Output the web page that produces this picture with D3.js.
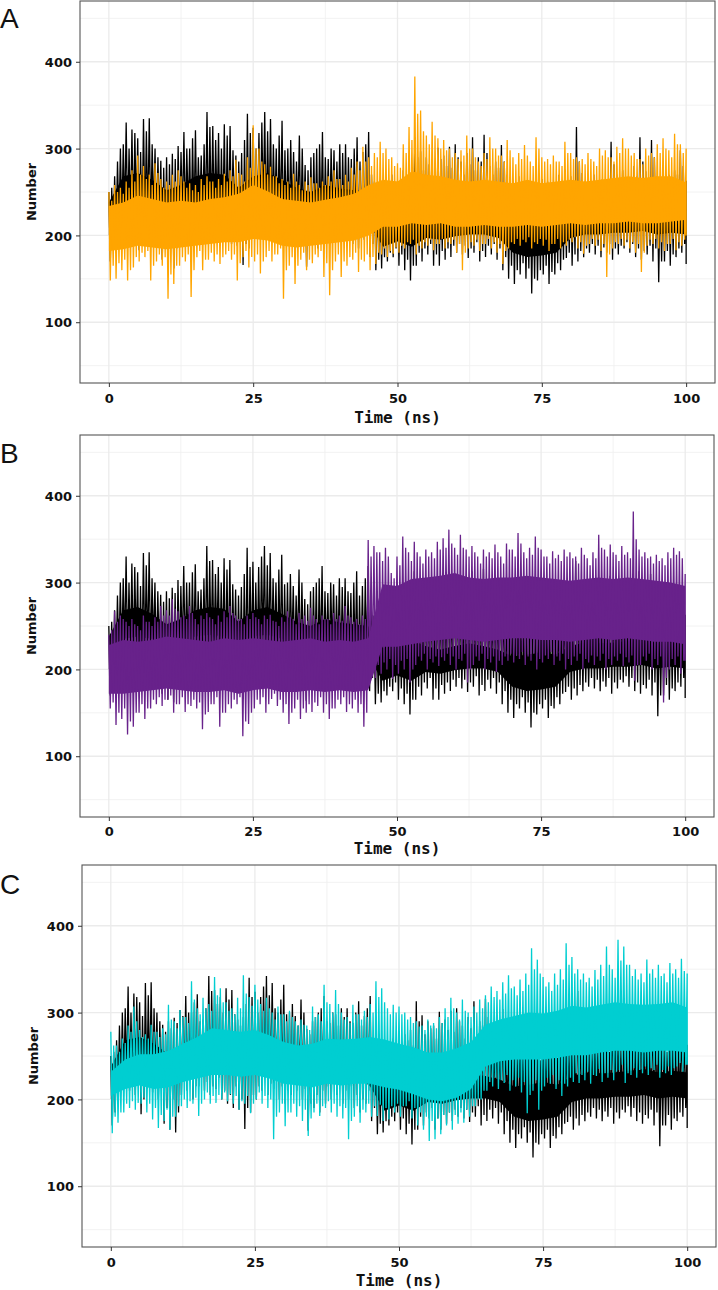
<!DOCTYPE html>
<html><head><meta charset="utf-8">
<script src="https://cdn.jsdelivr.net/npm/d3@7"></script>
<style>body{margin:0;background:#fff}svg{display:block}</style>
</head><body>
<svg id="chart" width="718" height="1290"></svg>
<script>
// ---------- DATA ----------
const xTicks = [0, 25, 50, 75, 100];
const yTicks = [100, 200, 300, 400];
const xMinorTicks = [12.5, 37.5, 62.5, 87.5];
const yMinorTicks = [50, 150, 250, 350, 450];
const panelLabels = ["A", "B", "C"];
const xTitle = "Time (ns)";
const yTitle = "Number";
const stepNs = 1;      // ns between successive readings; within each ns: hi, lo, hi2, lo2
const coreStepNs = 2.5; // ns between readings of the dense core band

// Reference trajectory (black) – same in all panels
const refHi = [250,268,300,330,322,312,334,335,300,286,
290,294,303,319,300,321,292,342,326,318,
328,326,292,295,340,324,318,342,334,300,
332,300,296,315,281,290,300,319,288,298,
305,305,288,313,296,319,262,250,262,270,
262,275,280,313,297,290,285,301,292,302,
305,285,295,313,290,316,280,285,304,270,
262,268,255,260,258,265,262,255,270,276,
268,325,272,265,270,262,261,308,270,275,
265,280,313,274,310,268,262,270,275,298,
263];
const refLo = [170,200,215,210,205,183,212,208,200,172,
165,162,205,210,200,215,210,205,212,200,
195,190,188,166,185,200,210,205,212,200,
195,205,210,200,164,190,185,195,200,205,
195,200,190,185,195,175,160,162,170,175,
165,160,148,165,170,178,165,165,172,175,
180,178,174,180,170,175,178,172,160,150,
144,155,150,133,148,155,144,155,160,174,
165,170,175,180,178,175,180,172,178,185,
180,175,172,178,170,146,170,165,175,180,
167];
const refHi2 = [255,285,305,300,318,296,320,305,290,278,
282,288,296,300,312,290,305,325,310,300,
315,298,285,310,318,300,330,320,305,315,
298,310,285,300,275,295,305,290,300,285,
295,290,300,285,305,270,245,255,248,262,
255,268,262,290,275,282,270,288,280,278,
290,270,282,275,285,295,270,278,285,258,
250,258,248,252,245,255,250,248,262,258,
260,285,262,255,258,265,255,282,260,265,
258,268,285,262,290,260,255,265,270,280];
const refLo2 = [185,210,222,215,225,200,218,225,215,190,
200,185,220,225,215,228,220,215,225,210,
205,215,200,190,205,215,225,218,222,215,
210,220,225,212,195,205,210,215,222,218,
210,215,205,200,210,190,172,175,180,185,
178,172,165,180,185,190,178,182,185,188,
190,188,185,192,182,188,190,185,175,165,
160,168,162,150,160,165,158,168,172,180,
178,182,185,190,188,186,190,185,188,192,
190,185,182,188,185,170,182,178,185,190];
const refCoreHi = [238,268,272,264,252,258,268,272,270,255,
268,272,264,255,250,258,254,252,250,225,
227,233,227,223,227,230,227,223,215,217,
220,217,227,231,230,231,233,235,231,233,
231];
const refCoreLo = [200,235,238,235,225,232,238,240,238,230,
238,240,235,230,228,232,230,228,215,187,
193,187,197,195,199,201,201,197,180,175,
177,180,197,201,201,203,203,205,201,203,
201];

// Panel A series (orange)
const orangeHi = [250,258,255,262,275,292,280,270,283,265,
262,270,275,262,260,258,265,268,262,265,
271,275,287,270,290,327,300,282,279,268,
265,262,271,258,262,267,260,262,268,275,
265,270,278,285,302,290,295,308,300,290,
283,305,325,383,344,315,331,312,310,300,
295,298,315,300,285,295,313,300,292,310,
290,295,304,285,313,290,288,292,285,308,
295,290,288,295,285,300,298,290,302,312,
300,295,288,300,295,305,312,298,317,305,
300];
const orangeLo = [148,150,160,148,163,170,175,148,170,165,
127,144,165,170,129,175,160,172,170,167,
178,172,148,175,163,170,156,175,170,178,
127,165,144,172,160,168,175,152,131,170,
152,165,172,158,170,160,167,178,175,179,
180,185,190,178,185,188,183,190,185,190,
180,160,185,188,182,190,185,180,167,185,
190,188,192,185,190,188,182,190,185,188,
192,185,179,190,188,182,152,185,190,188,
185,180,158,188,190,185,182,190,183,188,
200];
const orangeHi2 = [240,250,248,255,262,270,265,258,272,255,
258,262,268,255,252,250,258,262,255,258,
262,268,272,262,278,300,285,270,268,260,
258,255,262,252,258,260,255,258,262,265,
258,262,270,275,285,280,290,295,288,280,
278,295,310,340,320,305,315,300,298,290,
288,292,300,290,280,288,300,292,285,298,
282,288,292,280,300,285,282,285,280,295,
288,285,282,288,280,292,290,285,295,300,
292,288,282,292,290,295,300,290,305,295];
const orangeLo2 = [165,168,172,160,175,180,182,165,178,175,
155,165,175,178,160,182,172,180,178,175,
182,178,168,182,175,178,170,182,178,185,
160,175,165,180,172,178,182,168,160,178,
170,175,180,172,178,175,180,185,182,186,
188,192,195,188,192,195,190,196,192,195,
190,180,192,195,190,196,192,190,182,192,
196,195,198,192,196,195,190,196,192,195,
198,192,188,196,195,190,178,192,196,195,
192,190,180,195,196,192,190,196,192,195];
const orangeCoreHi = [234,238,246,242,238,240,238,242,244,248,
258,251,242,240,238,241,244,248,258,264,
262,274,270,268,264,262,264,262,260,264,
260,262,264,262,264,266,268,266,268,268,
261];
const orangeCoreLo = [182,184,188,186,184,186,188,190,192,192,
196,194,188,186,188,190,192,194,200,210,
210,214,212,214,210,210,212,210,210,212,
210,212,214,212,214,214,216,214,214,216,
218];

// Panel B series (purple)
const purpleHi = [240,267,262,255,258,250,262,255,260,273,
268,281,267,262,273,258,262,265,258,262,
267,273,262,258,262,265,258,262,263,255,
260,267,258,265,262,271,258,262,258,265,
262,273,260,258,262,349,342,335,340,311,
330,353,335,347,330,338,335,347,351,361,
340,355,338,342,330,338,335,344,330,345,
338,357,335,340,353,338,330,336,332,338,
335,330,340,328,335,355,338,344,332,342,
335,382,338,335,330,332,328,335,340,336,
310];
const purpleLo = [155,136,143,125,134,150,143,155,160,158,
165,150,160,151,158,155,131,151,160,134,
150,155,160,123,137,155,160,150,166,158,
150,137,155,143,150,151,158,150,143,155,
160,151,155,150,134,185,190,195,200,189,
195,200,185,205,210,200,208,204,210,205,
200,210,185,205,210,200,208,197,205,210,
208,212,205,210,200,208,212,205,210,200,
205,210,200,208,205,210,200,205,210,204,
208,187,205,210,200,205,162,200,205,195,
210];
const purpleHi2 = [245,255,258,250,252,245,255,250,255,262,
262,270,260,258,265,252,258,260,252,255,
260,265,258,252,258,260,252,258,256,250,
255,260,252,258,256,262,252,258,252,258,
256,262,255,252,258,330,335,325,330,305,
320,340,325,335,322,330,328,338,340,345,
332,340,330,335,322,330,328,335,322,338,
330,345,328,332,340,330,322,328,325,330,
328,322,332,320,328,340,330,335,325,332,
328,350,330,328,322,325,320,328,332,328];
const purpleLo2 = [162,150,155,140,150,160,155,165,168,165,
170,160,168,160,165,162,148,160,168,150,
160,165,168,140,150,165,168,160,172,165,
160,150,165,155,160,162,168,160,155,165,
168,160,165,160,150,200,205,208,212,205,
210,212,200,215,218,212,215,214,218,215,
212,218,200,215,218,212,215,210,215,218,
216,220,215,218,212,216,220,215,218,212,
215,218,212,216,215,218,212,215,218,214,
216,205,215,218,212,215,190,212,215,210];
const purpleCoreHi = [228,234,232,234,238,236,234,232,236,234,
236,234,232,234,236,232,234,232,236,298,
296,304,306,308,311,306,304,306,306,308,
306,304,302,304,306,304,306,304,302,300,
296];
const purpleCoreLo = [172,172,174,176,178,176,174,174,176,172,
176,178,174,174,176,174,176,174,176,226,
226,229,232,234,236,234,232,234,236,236,
234,234,232,234,236,234,236,234,232,232,
229];

// Panel C series (cyan)
const cyanHi = [278,262,270,285,307,280,275,286,278,282,
309,290,303,295,336,305,317,310,341,328,
312,305,317,343,318,332,310,317,300,307,
298,302,290,292,285,307,298,332,310,326,
300,295,309,298,302,310,336,328,305,309,
307,300,295,290,285,292,288,295,305,317,
300,315,300,307,315,320,330,325,335,343,
330,338,345,374,361,341,335,345,350,380,
364,350,345,340,349,355,376,350,384,376,
355,350,345,361,350,355,345,357,350,362,
345];
const cyanLo = [161,173,185,190,188,195,185,177,167,175,
165,180,192,190,195,181,200,195,196,200,
198,195,188,195,184,200,195,190,154,185,
169,185,180,175,158,185,181,190,185,180,
178,154,180,173,185,180,181,175,177,185,
180,192,178,170,165,152,154,160,170,165,
172,173,180,192,200,210,215,212,219,210,
215,208,184,210,188,215,218,212,204,215,
220,219,222,218,227,220,225,222,234,219,
228,225,230,228,234,225,230,228,238,232,
240];
const cyanHi2 = [262,255,265,278,290,272,270,278,272,275,
292,282,295,288,315,298,305,302,320,312,
302,298,305,322,308,315,302,305,292,298,
290,295,285,286,280,295,290,312,300,310,
292,288,298,292,295,300,318,312,298,300,
298,292,288,284,280,285,282,288,295,305,
292,302,295,300,305,312,318,315,322,328,
320,325,332,350,345,330,325,332,338,355,
345,338,335,330,338,342,355,340,360,355,
342,338,335,345,340,342,335,345,340,348];
const cyanLo2 = [180,185,195,198,196,202,195,190,182,188,
180,192,200,198,202,195,208,204,205,208,
206,204,198,204,195,208,204,200,180,195,
185,195,192,188,178,195,192,198,195,192,
190,175,192,188,195,192,194,190,192,195,
192,198,190,185,180,175,178,182,185,182,
185,188,192,200,210,220,225,222,228,222,
225,220,205,222,210,225,228,222,218,225,
230,228,232,228,235,230,234,232,240,230,
236,234,238,236,240,234,238,236,242,240];
const cyanCoreHi = [232,246,252,252,256,264,272,282,280,278,
280,274,266,262,264,270,269,270,272,269,
264,260,254,254,259,266,286,292,296,300,
299,302,308,306,309,312,310,309,310,312,
306];
const cyanCoreLo = [204,212,216,212,214,220,224,228,228,226,
228,224,218,216,214,218,216,218,218,214,
211,206,200,198,202,212,238,244,246,246,
246,248,251,251,254,256,256,254,256,256,
254];

// ---------- LAYOUT ----------
const panels = [
  {label: panelLabels[0], left: 80, right: 715, top: 1,   bottom: 383,  labelY: 28,  tickLabY: 398,  titleY: 417, yTitleX: 36,
   color: "#FFA500", hi: orangeHi, lo: orangeLo, hi2: orangeHi2, lo2: orangeLo2, coreHi: orangeCoreHi, coreLo: orangeCoreLo},
  {label: panelLabels[1], left: 80, right: 714, top: 435, bottom: 817,  labelY: 463, tickLabY: 831,  titleY: 848, yTitleX: 36,
   color: "#68228B", hi: purpleHi, lo: purpleLo, hi2: purpleHi2, lo2: purpleLo2, coreHi: purpleCoreHi, coreLo: purpleCoreLo},
  {label: panelLabels[2], left: 82, right: 716, top: 865, bottom: 1247, labelY: 894, tickLabY: 1262, titleY: 1280, yTitleX: 38,
   color: "#00CED1", hi: cyanHi, lo: cyanLo, hi2: cyanHi2, lo2: cyanLo2, coreHi: cyanCoreHi, coreLo: cyanCoreLo}
];

const svg = d3.select("#chart");
const tickFont = "'DejaVu Sans', sans-serif";

function seriesPoints(hi, lo, hi2, lo2) {
  const pts = [];
  hi.forEach((h, i) => {
    const t = i * stepNs;
    pts.push([t, h]);
    if (i < hi2.length) {
      pts.push([t + 0.25 * stepNs, lo[i]]);
      pts.push([t + 0.5 * stepNs, hi2[i]]);
      pts.push([t + 0.75 * stepNs, lo2[i]]);
    } else {
      pts.push([t, lo[i]]);
    }
  });
  return pts;
}

function drawSeries(g, x, y, s, color) {
  const area = d3.area()
    .x((d, i) => x(i * coreStepNs))
    .y0((d, i) => y(s.coreLo[i]))
    .y1(d => y(d));
  g.append("path").attr("d", area(s.coreHi)).attr("fill", color).attr("stroke", "none");
  const line = d3.line().x(d => x(d[0])).y(d => y(d[1]));
  g.append("path").attr("d", line(seriesPoints(s.hi, s.lo, s.hi2, s.lo2))).attr("fill", "none")
    .attr("stroke", color).attr("stroke-width", 1.3)
    .attr("stroke-linejoin", "bevel");
}

const refSeries = {hi: refHi, lo: refLo, hi2: refHi2, lo2: refLo2, coreHi: refCoreHi, coreLo: refCoreLo};

panels.forEach((p, k) => {
  const x = d3.scaleLinear().domain([-5, 105]).range([p.left, p.right]);
  const y = d3.scaleLinear().domain([30, 470]).range([p.bottom, p.top]);
  const g = svg.append("g");

  // grid
  g.selectAll(".xmin").data(xMinorTicks).join("line")
    .attr("x1", d => x(d)).attr("x2", d => x(d)).attr("y1", p.top).attr("y2", p.bottom)
    .attr("stroke", "#EFEFEF").attr("stroke-width", 0.8);
  g.selectAll(".ymin").data(yMinorTicks).join("line")
    .attr("y1", d => y(d)).attr("y2", d => y(d)).attr("x1", p.left).attr("x2", p.right)
    .attr("stroke", "#EFEFEF").attr("stroke-width", 0.8);
  g.selectAll(".xmaj").data(xTicks).join("line")
    .attr("x1", d => x(d)).attr("x2", d => x(d)).attr("y1", p.top).attr("y2", p.bottom)
    .attr("stroke", "#EBEBEB").attr("stroke-width", 1.3);
  g.selectAll(".ymaj").data(yTicks).join("line")
    .attr("y1", d => y(d)).attr("y2", d => y(d)).attr("x1", p.left).attr("x2", p.right)
    .attr("stroke", "#EBEBEB").attr("stroke-width", 1.3);

  // clip + data
  const cid = "clip" + k;
  svg.append("clipPath").attr("id", cid).append("rect")
    .attr("x", p.left).attr("y", p.top).attr("width", p.right - p.left).attr("height", p.bottom - p.top);
  const dg = g.append("g").attr("clip-path", `url(#${cid})`);
  drawSeries(dg, x, y, refSeries, "#000000");
  drawSeries(dg, x, y, p, p.color);

  // border
  g.append("rect").attr("x", p.left).attr("y", p.top)
    .attr("width", p.right - p.left).attr("height", p.bottom - p.top)
    .attr("fill", "none").attr("stroke", "#555").attr("stroke-width", 1.1);

  // axes
  const ax = g.append("g").attr("transform", `translate(0,${p.bottom})`)
    .call(d3.axisBottom(x).tickValues(xTicks).tickSize(4).tickFormat(d3.format("d")));
  ax.select(".domain").remove();
  ax.selectAll(".tick line").attr("stroke", "#333");
  ax.selectAll(".tick text").attr("y", p.tickLabY - p.bottom).attr("dy", "0.36em")
    .attr("font-family", tickFont).attr("font-weight", "bold").attr("font-size", 13).attr("fill", "#111");

  const ay = g.append("g").attr("transform", `translate(${p.left},0)`)
    .call(d3.axisLeft(y).tickValues(yTicks).tickSize(4).tickPadding(4).tickFormat(d3.format("d")));
  ay.select(".domain").remove();
  ay.selectAll(".tick line").attr("stroke", "#333");
  ay.selectAll(".tick text").attr("dy", "0.36em")
    .attr("font-family", tickFont).attr("font-weight", "bold").attr("font-size", 13).attr("fill", "#111");

  // titles
  svg.append("text").attr("x", x(50)).attr("y", p.titleY).attr("dy", "0.36em")
    .attr("text-anchor", "middle").attr("font-family", "'DejaVu Sans Mono', monospace")
    .attr("font-weight", "bold").attr("font-size", 16).attr("fill", "#111").text(xTitle);
  svg.append("text").attr("transform", `translate(${p.yTitleX},${(p.top + p.bottom) / 2}) rotate(-90)`)
    .attr("text-anchor", "middle").attr("font-family", tickFont)
    .attr("font-weight", "bold").attr("font-size", 13).attr("fill", "#111").text(yTitle);

  // panel letter
  svg.append("text").attr("x", 0).attr("y", p.labelY)
    .attr("font-family", "'Liberation Sans', Arial, sans-serif").attr("font-size", 28)
    .attr("fill", "#111").text(p.label);
});
</script>
</body></html>
